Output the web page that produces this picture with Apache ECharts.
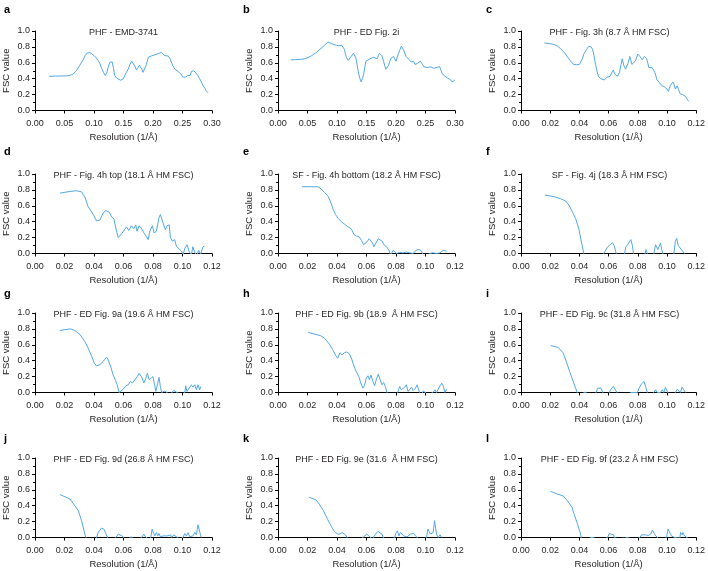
<!DOCTYPE html>
<html><head><meta charset="utf-8">
<script src="https://cdn.jsdelivr.net/npm/echarts@6/dist/echarts.min.js"></script>
<style>html,body{margin:0;padding:0;background:#fff}#c{width:708px;height:571px}</style>
</head><body><div id="c"></div>
<script>
// ---- data ----
const panelLetters = ['a','b','c','d','e','f','g','h','i','j','k','l'];
const panelTitles = [
  'PHF - EMD-3741','PHF - ED Fig. 2i','PHF - Fig. 3h (8.7 Å HM FSC)',
  'PHF - Fig. 4h top (18.1 Å HM FSC)','SF - Fig. 4h bottom (18.2 Å HM FSC)','SF - Fig. 4j (18.3 Å HM FSC)',
  'PHF - ED Fig. 9a (19.6 Å HM FSC)','PHF - ED Fig. 9b (18.9  Å HM FSC)','PHF - ED Fig. 9c (31.8 Å HM FSC)',
  'PHF - ED Fig. 9d (26.8 Å HM FSC)','PHF - ED Fig. 9e (31.6  Å HM FSC)','PHF - ED Fig. 9f (23.2 Å HM FSC)'
];
const xMaxWide = 0.30, xStepWide = 0.05;
const xMaxNarrow = 0.12, xStepNarrow = 0.02;
const yTicks = [0.0,0.2,0.4,0.6,0.8,1.0];

const panelA = [[0.024,0.43],[0.035,0.433],[0.045,0.434],[0.054,0.436],[0.06,0.445],[0.065,0.46],[0.07,0.50],[0.076,0.57],[0.081,0.63],[0.085,0.69],[0.088,0.72],[0.09,0.736],[0.093,0.73],[0.096,0.715],[0.1,0.69],[0.104,0.66],[0.107,0.63],[0.11,0.59],[0.113,0.53],[0.116,0.48],[0.119,0.44],[0.12,0.44],[0.122,0.48],[0.124,0.545],[0.127,0.61],[0.129,0.63],[0.131,0.61],[0.133,0.53],[0.135,0.44],[0.138,0.41],[0.141,0.40],[0.145,0.38],[0.148,0.365],[0.150,0.40],[0.152,0.44],[0.155,0.48],[0.158,0.52],[0.161,0.58],[0.164,0.62],[0.166,0.61],[0.169,0.56],[0.172,0.51],[0.175,0.52],[0.177,0.57],[0.179,0.57],[0.181,0.52],[0.183,0.48],[0.186,0.49],[0.189,0.58],[0.192,0.67],[0.195,0.69],[0.197,0.685],[0.2,0.69],[0.203,0.70],[0.206,0.705],[0.209,0.715],[0.212,0.72],[0.214,0.73],[0.217,0.71],[0.22,0.69],[0.223,0.69],[0.226,0.685],[0.229,0.65],[0.231,0.61],[0.234,0.56],[0.237,0.52],[0.24,0.505],[0.243,0.49],[0.246,0.47],[0.248,0.45],[0.251,0.42],[0.253,0.41],[0.255,0.42],[0.257,0.42],[0.259,0.44],[0.261,0.46],[0.263,0.44],[0.265,0.49],[0.267,0.50],[0.269,0.50],[0.271,0.49],[0.273,0.47],[0.276,0.44],[0.279,0.40],[0.282,0.36],[0.285,0.31],[0.288,0.28],[0.29,0.25],[0.293,0.225]];
const panelB = [[0.0216,0.637],[0.03,0.64],[0.04,0.645],[0.045,0.65],[0.051,0.665],[0.057,0.69],[0.064,0.725],[0.071,0.77],[0.076,0.80],[0.08,0.83],[0.085,0.86],[0.088,0.855],[0.091,0.84],[0.095,0.83],[0.099,0.82],[0.103,0.815],[0.108,0.82],[0.110,0.80],[0.1125,0.77],[0.114,0.72],[0.116,0.67],[0.119,0.63],[0.121,0.64],[0.124,0.68],[0.126,0.70],[0.128,0.72],[0.130,0.70],[0.132,0.66],[0.134,0.58],[0.136,0.49],[0.138,0.42],[0.141,0.36],[0.143,0.40],[0.145,0.45],[0.147,0.54],[0.149,0.62],[0.152,0.63],[0.156,0.65],[0.159,0.66],[0.162,0.67],[0.165,0.655],[0.168,0.65],[0.170,0.69],[0.172,0.72],[0.174,0.73],[0.176,0.69],[0.179,0.62],[0.181,0.56],[0.183,0.52],[0.185,0.54],[0.1875,0.57],[0.190,0.63],[0.192,0.66],[0.194,0.67],[0.196,0.68],[0.198,0.65],[0.2,0.62],[0.202,0.67],[0.2045,0.72],[0.207,0.77],[0.209,0.81],[0.211,0.79],[0.213,0.76],[0.215,0.72],[0.217,0.68],[0.219,0.66],[0.2216,0.645],[0.224,0.62],[0.226,0.61],[0.228,0.63],[0.23,0.62],[0.232,0.58],[0.234,0.56],[0.236,0.59],[0.2386,0.60],[0.241,0.62],[0.243,0.61],[0.245,0.58],[0.247,0.55],[0.25,0.56],[0.253,0.54],[0.256,0.55],[0.2585,0.55],[0.261,0.53],[0.264,0.53],[0.267,0.55],[0.27,0.545],[0.272,0.54],[0.274,0.55],[0.276,0.51],[0.278,0.47],[0.281,0.44],[0.284,0.42],[0.287,0.41],[0.29,0.40],[0.292,0.39],[0.295,0.36],[0.297,0.35],[0.2994,0.38]];
const panelC = [[0.016,0.85],[0.02,0.84],[0.0227,0.83],[0.025,0.81],[0.027,0.78],[0.03,0.72],[0.032,0.67],[0.034,0.62],[0.036,0.58],[0.038,0.575],[0.04,0.58],[0.042,0.65],[0.043,0.71],[0.045,0.77],[0.0466,0.81],[0.048,0.80],[0.049,0.77],[0.05,0.69],[0.051,0.58],[0.052,0.50],[0.053,0.43],[0.0545,0.40],[0.0557,0.38],[0.057,0.385],[0.058,0.40],[0.059,0.42],[0.060,0.44],[0.061,0.43],[0.062,0.47],[0.0632,0.51],[0.0643,0.455],[0.066,0.43],[0.0675,0.48],[0.0685,0.58],[0.0693,0.65],[0.0705,0.56],[0.0716,0.52],[0.0725,0.56],[0.0734,0.60],[0.0745,0.68],[0.0752,0.63],[0.076,0.58],[0.0773,0.56],[0.0784,0.625],[0.0792,0.67],[0.08,0.71],[0.0807,0.69],[0.0814,0.68],[0.0822,0.66],[0.083,0.64],[0.0845,0.68],[0.086,0.655],[0.0868,0.60],[0.0875,0.54],[0.0885,0.545],[0.0898,0.54],[0.0907,0.51],[0.0916,0.48],[0.0923,0.44],[0.093,0.39],[0.0939,0.37],[0.0948,0.35],[0.0957,0.34],[0.0966,0.31],[0.0973,0.33],[0.098,0.30],[0.099,0.29],[0.1,0.27],[0.101,0.24],[0.1016,0.28],[0.1023,0.315],[0.1032,0.33],[0.104,0.36],[0.1048,0.33],[0.1057,0.27],[0.1063,0.29],[0.107,0.31],[0.108,0.26],[0.109,0.21],[0.1098,0.22],[0.1107,0.20],[0.1116,0.21],[0.1125,0.18],[0.1135,0.15],[0.1148,0.115]];
const panelD = [[0.017,0.76],[0.0237,0.78],[0.028,0.79],[0.0316,0.775],[0.034,0.70],[0.036,0.59],[0.0395,0.49],[0.0417,0.41],[0.044,0.42],[0.0462,0.51],[0.048,0.54],[0.0503,0.52],[0.052,0.46],[0.0535,0.435],[0.0548,0.32],[0.0564,0.20],[0.0587,0.25],[0.06,0.28],[0.062,0.335],[0.0636,0.29],[0.0654,0.35],[0.067,0.31],[0.0683,0.36],[0.0692,0.28],[0.0706,0.35],[0.072,0.32],[0.0738,0.26],[0.0756,0.21],[0.0767,0.175],[0.078,0.29],[0.0796,0.35],[0.0807,0.26],[0.0823,0.28],[0.084,0.45],[0.085,0.49],[0.0868,0.385],[0.0884,0.30],[0.0895,0.35],[0.091,0.36],[0.0918,0.20],[0.0932,0.155],[0.0947,0.175],[0.0959,0.09],[0.097,0.11],[0.0993,0.03],[0.1004,-0.01],[0.1017,0.07],[0.1031,0.11],[0.1044,0.03],[0.106,-0.02],[0.107,0.085],[0.1083,0.01],[0.1098,-0.02],[0.111,0.04],[0.1123,-0.01],[0.1139,0.085],[0.1148,0.09]];
const panelE = [[0.0163,0.84],[0.022,0.84],[0.027,0.84],[0.0294,0.81],[0.0317,0.765],[0.034,0.72],[0.0358,0.64],[0.0374,0.555],[0.039,0.49],[0.0408,0.44],[0.043,0.40],[0.0453,0.365],[0.0475,0.336],[0.049,0.32],[0.0503,0.29],[0.0514,0.24],[0.0532,0.22],[0.055,0.21],[0.0566,0.165],[0.058,0.11],[0.06,0.14],[0.0618,0.185],[0.063,0.20],[0.064,0.135],[0.065,0.084],[0.0663,0.09],[0.068,0.185],[0.069,0.21],[0.0706,0.155],[0.0718,0.11],[0.0736,0.084],[0.0752,0.04],[0.0763,-0.02],[0.0772,-0.03],[0.078,0.04],[0.079,0.05],[0.0804,0],[0.0826,0.017],[0.0844,0.008],[0.087,0.017],[0.0894,0.008],[0.0917,0.0],[0.0935,0.04],[0.0958,0.05],[0.0973,0.03],[0.0985,-0.02],[0.101,-0.02],[0.103,0],[0.105,0.008],[0.1075,0],[0.1098,0.008],[0.112,0.04],[0.1132,0.065],[0.1143,0.03]];
const panelF = [[0.0163,0.735],[0.0226,0.715],[0.027,0.69],[0.0306,0.66],[0.0328,0.61],[0.035,0.53],[0.0374,0.44],[0.0396,0.31],[0.041,0.18],[0.043,0],[0.0441,-0.08],[0.05,-0.2],[0.0555,-0.05],[0.0566,0],[0.0577,0.03],[0.0593,0.084],[0.0611,0.11],[0.0627,0.135],[0.0638,0.10],[0.0652,0],[0.066,-0.05],[0.068,-0.1],[0.0705,-0.03],[0.0709,0],[0.0718,0.084],[0.073,0.11],[0.0741,0.135],[0.0752,0.175],[0.0763,0.10],[0.077,0],[0.0779,-0.05],[0.081,-0.1],[0.0847,-0.03],[0.0856,0.05],[0.0865,0],[0.0874,-0.05],[0.089,-0.08],[0.091,0],[0.0921,0.11],[0.0928,0.13],[0.0937,0.05],[0.0946,0.09],[0.0955,0.13],[0.0964,0.05],[0.0973,-0.01],[0.1,-0.1],[0.1046,-0.01],[0.1057,0.155],[0.1066,0.19],[0.1077,0.10],[0.1086,0.084],[0.1098,0.05],[0.1109,0.03],[0.112,0]];
const panelG = [[0.0169,0.78],[0.0203,0.79],[0.0241,0.80],[0.027,0.78],[0.0305,0.73],[0.0338,0.64],[0.036,0.56],[0.0383,0.46],[0.0402,0.37],[0.0417,0.336],[0.044,0.35],[0.0462,0.39],[0.0485,0.445],[0.0496,0.41],[0.0514,0.32],[0.053,0.22],[0.0546,0.15],[0.0557,0.097],[0.057,0],[0.058,-0.01],[0.0598,0.042],[0.0616,0.084],[0.0632,0.097],[0.0647,0.14],[0.0661,0.12],[0.0677,0.16],[0.0693,0.20],[0.0706,0.24],[0.0722,0.20],[0.0738,0.12],[0.0751,0.18],[0.0762,0.24],[0.0774,0.16],[0.0785,0.18],[0.08,0.20],[0.0812,0.084],[0.0819,0.013],[0.083,0.03],[0.0841,0.19],[0.085,0.076],[0.0859,0],[0.0868,0.025],[0.088,0.02],[0.089,0],[0.0915,-0.03],[0.094,0.025],[0.0952,0.013],[0.0963,0],[0.099,-0.03],[0.1015,0],[0.1022,0.084],[0.103,0.013],[0.1049,0.067],[0.106,0.097],[0.107,0.067],[0.1083,0.097],[0.1094,0.034],[0.1105,0.097],[0.1117,0.034],[0.1123,0.076]];
const panelH = [[0.0205,0.756],[0.029,0.714],[0.0314,0.685],[0.0348,0.61],[0.037,0.54],[0.0393,0.46],[0.0405,0.43],[0.042,0.50],[0.0434,0.475],[0.045,0.50],[0.0466,0.51],[0.0484,0.487],[0.05,0.42],[0.051,0.36],[0.0525,0.286],[0.0536,0.28],[0.0548,0.20],[0.0561,0.12],[0.0575,0.055],[0.0586,0.084],[0.0598,0.18],[0.061,0.21],[0.062,0.16],[0.063,0.22],[0.0643,0.14],[0.0655,0.084],[0.0666,0.16],[0.068,0.23],[0.0693,0.16],[0.0705,0.097],[0.0716,0.126],[0.0727,0.076],[0.0739,0],[0.0745,-0.05],[0.078,-0.1],[0.0811,0],[0.0825,0.076],[0.0836,0.034],[0.0848,0.013],[0.0859,0.067],[0.087,0.097],[0.0882,0.013],[0.0893,0.034],[0.0905,0.067],[0.0916,0.025],[0.0932,0.055],[0.0943,0.097],[0.095,0.076],[0.096,0],[0.0973,-0.03],[0.0984,0.02],[0.0995,0],[0.102,-0.03],[0.105,0],[0.1064,0.034],[0.1075,0],[0.1098,0.084],[0.111,0.118],[0.112,0.084],[0.1132,0],[0.1143,0.042]];
const panelI = [[0.0204,0.59],[0.0254,0.567],[0.0288,0.50],[0.031,0.39],[0.0333,0.265],[0.0355,0.15],[0.0374,0.055],[0.0385,0],[0.0396,-0.05],[0.042,-0.03],[0.043,0],[0.0446,0.003],[0.0457,-0.03],[0.049,-0.08],[0.0514,0],[0.0525,0.055],[0.0537,0.076],[0.0548,0.055],[0.056,0],[0.058,-0.05],[0.0604,0],[0.0616,0.042],[0.0632,0.076],[0.0645,0.055],[0.0657,0],[0.07,-0.08],[0.075,0],[0.0763,0.025],[0.0774,0],[0.0785,-0.02],[0.0797,0],[0.0808,0.055],[0.0826,0.11],[0.0842,0.14],[0.0853,0.076],[0.0865,0],[0.088,-0.05],[0.091,0],[0.0921,0.034],[0.0933,0],[0.0944,0.025],[0.0955,0],[0.0967,0.034],[0.0978,0],[0.0989,0.067],[0.0996,0.076],[0.1005,0],[0.103,-0.05],[0.1057,0],[0.1069,0.042],[0.108,0.055],[0.1091,0],[0.1103,0.067],[0.1114,0.034],[0.112,0.055],[0.1127,0]];
const panelJ = [[0.0169,0.54],[0.0237,0.485],[0.027,0.40],[0.0293,0.34],[0.0316,0.21],[0.0338,0.04],[0.0345,0],[0.0354,-0.04],[0.038,-0.1],[0.0417,0],[0.0429,0.063],[0.0451,0.118],[0.0467,0.105],[0.048,0.05],[0.0492,0],[0.052,-0.05],[0.0548,0],[0.0564,0.042],[0.0575,0.05],[0.0591,0.02],[0.0602,-0.01],[0.063,-0.03],[0.065,0.01],[0.0659,-0.01],[0.069,-0.05],[0.0722,0],[0.0738,0.042],[0.0749,0.008],[0.077,-0.02],[0.0785,0],[0.0794,0.105],[0.0805,0.084],[0.0812,0.02],[0.0823,0.063],[0.0832,0.02],[0.0841,0.05],[0.085,0.008],[0.0868,0.02],[0.088,0],[0.0896,0.02],[0.0907,0],[0.0918,0.034],[0.0927,0],[0.0941,0.034],[0.0954,0.042],[0.0965,0],[0.098,-0.02],[0.1004,0],[0.1015,0.05],[0.1026,0.02],[0.1038,0.06],[0.1049,0.008],[0.106,0],[0.1071,0.02],[0.1083,0.063],[0.1094,0.034],[0.1105,0.16],[0.1112,0.135],[0.1121,0.042],[0.1128,0]];
const panelK = [[0.0211,0.506],[0.0257,0.473],[0.028,0.42],[0.0307,0.34],[0.0336,0.23],[0.0359,0.148],[0.0382,0.076],[0.0405,0.042],[0.042,0.042],[0.0434,0.063],[0.0445,0.063],[0.0457,0.034],[0.0468,0],[0.0477,-0.03],[0.052,-0.08],[0.0575,0],[0.0586,0.02],[0.0602,0.042],[0.0616,0.02],[0.0627,0],[0.064,-0.02],[0.0648,0],[0.0661,0.042],[0.0677,0.076],[0.0689,0.084],[0.0705,0.042],[0.0716,-0.01],[0.075,-0.05],[0.0791,0],[0.0798,0.05],[0.0809,0.084],[0.082,0.02],[0.083,0.063],[0.084,0.084],[0.0852,0.02],[0.0864,0.042],[0.0875,0.008],[0.0886,0],[0.0898,0.042],[0.0909,0.063],[0.092,0.05],[0.0932,0.02],[0.0943,0],[0.097,-0.05],[0.1007,0],[0.1016,0.105],[0.1025,0.118],[0.1034,0.042],[0.1043,0.02],[0.1052,0.063],[0.1061,0.21],[0.1068,0.2],[0.1075,0.042],[0.1086,0],[0.1098,0.034],[0.1105,0.042],[0.1111,0]];
const panelL = [[0.0202,0.58],[0.0243,0.55],[0.0288,0.523],[0.0315,0.47],[0.0349,0.38],[0.0365,0.287],[0.0383,0.19],[0.0402,0.084],[0.0413,0],[0.0422,-0.03],[0.045,-0.06],[0.0474,0],[0.0485,0.013],[0.0497,0],[0.054,-0.05],[0.0592,0],[0.0606,0.05],[0.0619,0.067],[0.0633,0.034],[0.064,0],[0.067,-0.02],[0.069,-0.01],[0.0701,0],[0.071,-0.01],[0.0724,0],[0.0735,0.008],[0.0746,-0.01],[0.078,-0.03],[0.0814,0],[0.0826,0.034],[0.0837,0.05],[0.0853,0.034],[0.0871,0.025],[0.0887,0.042],[0.09,0.093],[0.0912,0.05],[0.0923,0.02],[0.0932,0],[0.096,-0.05],[0.0996,0],[0.1007,0.105],[0.1019,0.084],[0.103,0.02],[0.1041,0.01],[0.1053,0],[0.1064,0.008],[0.1087,-0.01],[0.1093,0.063],[0.1103,0.034],[0.1109,0.063],[0.112,0.02],[0.1132,0],[0.1143,-0.01]];

const panelData = [panelA,panelB,panelC,panelD,panelE,panelF,panelG,panelH,panelI,panelJ,panelK,panelL];
const wideRange = [true,true,false,false,false,false,false,false,false,false,false,false];

// ---- layout / style ----
const colLeft = [35, 278, 521];
const rowTop = [31, 174, 313, 458];
const gridW = 177, gridH = 79.5;
const letterX = [4, 243, 486];
const letterY = [4, 146, 288, 433];
const FONT = '"Liberation Sans", Arial, Helvetica, sans-serif';
const LINE = '#52a8e6';
const TXT = '#231f20';

const grids = [], xAxes = [], yAxes = [], series = [], titles = [], graphics = [];
panelData.forEach((d, i) => {
  const r = Math.floor(i / 3), c = i % 3;
  grids.push({left: colLeft[c], top: rowTop[r], width: gridW, height: gridH, containLabel: false});
  const wide = wideRange[i];
  xAxes.push({
    gridIndex: i, type: 'value', min: 0, max: wide ? xMaxWide : xMaxNarrow, interval: wide ? xStepWide : xStepNarrow,
    axisLine: {show: true, onZero: false, lineStyle: {color: '#000', width: 1}},
    axisTick: {show: true, length: 3, lineStyle: {color: '#000'}},
    splitLine: {show: false},
    axisLabel: {fontSize: 9, color: TXT, fontFamily: FONT, margin: 9, formatter: v => v.toFixed(2)},
    name: 'Resolution (1/Å)', nameLocation: 'middle', nameGap: 22,
    nameTextStyle: {fontSize: 9.5, color: TXT, fontFamily: FONT}
  });
  yAxes.push({
    gridIndex: i, type: 'value', min: 0, max: 1, interval: 0.2,
    axisLine: {show: true, lineStyle: {color: '#000', width: 1}},
    axisTick: {show: true, length: 3, lineStyle: {color: '#000'}},
    minorTick: {show: true, splitNumber: 2, length: 2, lineStyle: {color: '#000'}},
    splitLine: {show: false},
    axisLabel: {fontSize: 9, color: TXT, fontFamily: FONT, margin: 5, formatter: v => v.toFixed(1)},
    name: 'FSC value', nameLocation: 'middle', nameGap: 24,
    nameTextStyle: {fontSize: 9.5, color: TXT, fontFamily: FONT}
  });
  series.push({
    type: 'line', xAxisIndex: i, yAxisIndex: i, data: d, showSymbol: false, symbol: 'none',
    clip: true, smooth: false, lineStyle: {color: LINE, width: 1}, animation: false
  });
  titles.push({
    text: panelTitles[i], left: colLeft[c] + gridW / 2, top: rowTop[r] - 3, textAlign: 'center', padding: 0,
    textStyle: {fontSize: 9, fontWeight: 'normal', color: TXT, fontFamily: FONT}
  });
  graphics.push({
    type: 'text', left: letterX[c], top: letterY[r],
    style: {text: panelLetters[i], font: 'bold 11px ' + FONT, fill: '#000'}
  });
});

const chart = echarts.init(document.getElementById('c'), null, {renderer: 'canvas'});
chart.setOption({
  animation: false, backgroundColor: '#fff',
  title: titles, grid: grids, xAxis: xAxes, yAxis: yAxes, series: series, graphic: graphics
});
</script></body></html>
